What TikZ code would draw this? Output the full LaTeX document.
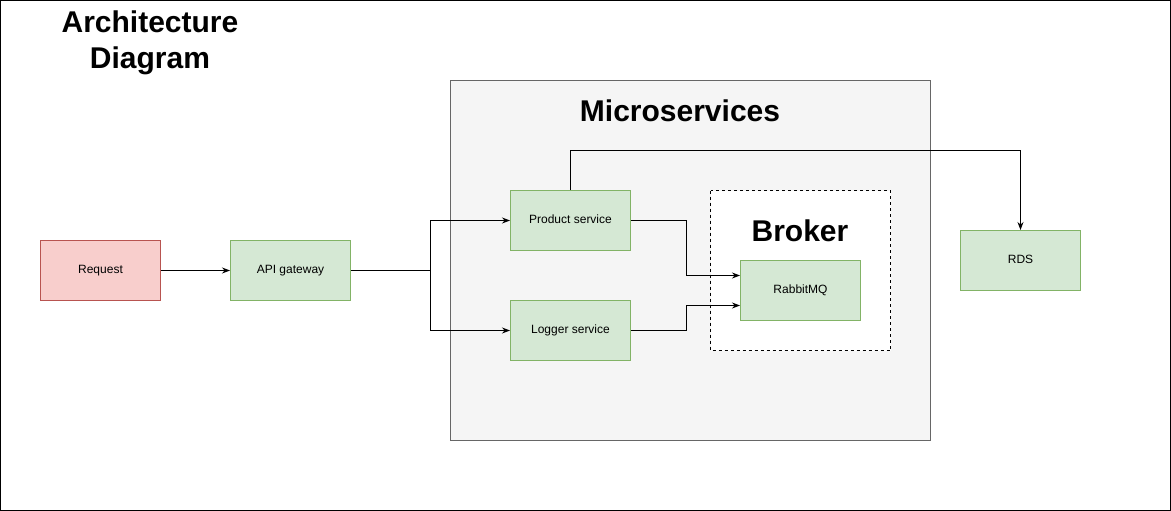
\documentclass[tikz,border=0pt]{standalone}
\usepackage{fontspec}
\setmainfont{Liberation Sans}
\usetikzlibrary{arrows.meta}
\definecolor{greenfill}{HTML}{D5E8D4}
\definecolor{greendraw}{HTML}{82B366}
\definecolor{redfill}{HTML}{F8CECC}
\definecolor{reddraw}{HTML}{B85450}
\definecolor{grayfill}{HTML}{F5F5F5}
\definecolor{graydraw}{HTML}{666666}
\tikzset{
  box/.style={draw=greendraw, fill=greenfill, line width=1pt, minimum width=120pt, minimum height=60pt, inner sep=0pt, text height=8.6pt, text depth=2.6pt, font=\fontsize{12}{14}\selectfont},
  redbox/.style={box, draw=reddraw, fill=redfill},
  bigtitle/.style={font=\bfseries\fontsize{30}{36}\selectfont, align=center, inner sep=0pt},
  arr/.style={line width=1pt, -{Stealth[length=8pt,width=6pt]}},
  conn/.style={line width=1pt}
}
\begin{document}
\begin{tikzpicture}[x=1pt,y=-1pt]
\useasboundingbox (0,0) rectangle (1171,511);
\draw[line width=1pt] (0.5,0.5) rectangle (1170.5,510.5);
\node[bigtitle] (title) at (150,43) {Architecture\\Diagram};
\draw[fill=grayfill, draw=graydraw, line width=1pt] (450.5,80.5) rectangle (930.5,440.5);
\node[bigtitle] (ms) at (680,111) {Microservices};
\draw[fill=white, dashed, line width=1pt] (710.5,190.5) rectangle (890.5,350.5);
\node[bigtitle] (broker) at (800,231) {Broker};
\node[redbox] (req) at (100.5,270.5) {Request};
\node[box] (api) at (290.5,270.5) {API gateway};
\node[box] (prod) at (570.5,220.5) {Product service};
\node[box] (log) at (570.5,330.5) {Logger service};
\node[box] (rmq) at (800.5,290.5) {RabbitMQ};
\node[box] (rds) at (1020.5,260.5) {RDS};
\coordinate (j) at (430.5,270.5);
\draw[arr] (req) -- (api);
\draw[conn] (api.east) -- (j);
\draw[arr] (j) |- (prod.west);
\draw[arr] (j) |- (log.west);
\draw[arr] (prod.east) -- ++(55,0) |- ([yshift=15pt]rmq.west);
\draw[arr] (log.east) -- ++(55,0) |- ([yshift=-15pt]rmq.west);
\draw[arr] (prod.north) -- ++(0,-40) -| (rds.north);
\end{tikzpicture}
\end{document}
